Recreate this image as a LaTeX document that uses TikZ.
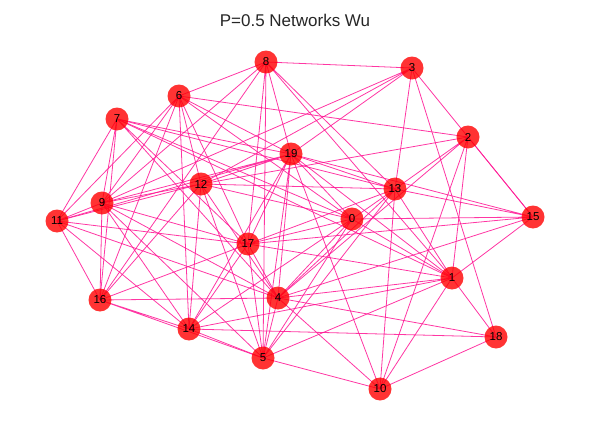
\documentclass[tikz,border=0pt]{standalone}
\usepackage{fontspec}
\setmainfont{Liberation Sans}
\usepackage{tikz}
\pgfdeclarelayer{bg}
\pgfsetlayers{bg,main}
\definecolor{edgepink}{RGB}{255,20,147}
\definecolor{vertred}{RGB}{255,0,0}
\tikzset{
  vert/.style={circle, fill=vertred, fill opacity=0.8, text opacity=1, minimum size=23pt, inner sep=0pt, font=\fontsize{11.5}{11.5}\selectfont},
  edge/.style={draw=edgepink, draw opacity=0.85, line width=0.8pt}
}

\begin{document}
\begin{tikzpicture}[x=1pt,y=-1pt]
\useasboundingbox (0,0) rectangle (590,431);
\node[font=\fontsize{17}{17}\selectfont, text=black!85] (title) at (295,20) {P=0.5 Networks Wu};
% vertices
\node[vert] (n0) at (352,219) {0};
\node[vert] (n1) at (452,278) {1};
\node[vert] (n2) at (468,137) {2};
\node[vert] (n3) at (412,68) {3};
\node[vert] (n4) at (278,298) {4};
\node[vert] (n5) at (263,358) {5};
\node[vert] (n6) at (179,96) {6};
\node[vert] (n7) at (117,119) {7};
\node[vert] (n8) at (266,62) {8};
\node[vert] (n9) at (102,203) {9};
\node[vert] (n10) at (380,389) {10};
\node[vert] (n11) at (57,221) {11};
\node[vert] (n12) at (201,184) {12};
\node[vert] (n13) at (395,189) {13};
\node[vert] (n14) at (189,329) {14};
\node[vert] (n15) at (533,217) {15};
\node[vert] (n16) at (100,300) {16};
\node[vert] (n17) at (248,244) {17};
\node[vert] (n18) at (496,337) {18};
\node[vert] (n19) at (291,154) {19};
% edges
\begin{pgfonlayer}{bg}
\draw[edge] (n8.center) -- (n3.center) (n8.center) -- (n6.center) (n8.center) -- (n19.center) (n8.center) -- (n17.center) (n8.center) -- (n5.center) (n8.center) -- (n16.center) (n8.center) -- (n13.center) (n8.center) -- (n1.center) (n8.center) -- (n9.center);
\draw[edge] (n3.center) -- (n2.center) (n3.center) -- (n15.center) (n3.center) -- (n13.center) (n3.center) -- (n19.center) (n3.center) -- (n12.center) (n3.center) -- (n9.center) (n3.center) -- (n18.center);
\draw[edge] (n2.center) -- (n15.center) (n2.center) -- (n13.center) (n2.center) -- (n6.center) (n2.center) -- (n12.center) (n2.center) -- (n1.center) (n2.center) -- (n10.center) (n2.center) -- (n4.center);
\draw[edge] (n15.center) -- (n13.center) (n15.center) -- (n19.center) (n15.center) -- (n0.center) (n15.center) -- (n1.center) (n15.center) -- (n4.center) (n15.center) -- (n17.center);
\draw[edge] (n13.center) -- (n0.center) (n13.center) -- (n19.center) (n13.center) -- (n12.center) (n13.center) -- (n7.center) (n13.center) -- (n17.center) (n13.center) -- (n4.center) (n13.center) -- (n5.center) (n13.center) -- (n10.center) (n13.center) -- (n1.center);
\draw[edge] (n0.center) -- (n1.center) (n0.center) -- (n4.center) (n0.center) -- (n5.center) (n0.center) -- (n14.center) (n0.center) -- (n19.center) (n0.center) -- (n12.center) (n0.center) -- (n7.center) (n0.center) -- (n6.center) (n0.center) -- (n17.center);
\draw[edge] (n19.center) -- (n6.center) (n19.center) -- (n7.center) (n19.center) -- (n12.center) (n19.center) -- (n9.center) (n19.center) -- (n11.center) (n19.center) -- (n17.center) (n19.center) -- (n5.center) (n19.center) -- (n4.center) (n19.center) -- (n14.center) (n19.center) -- (n10.center) (n19.center) -- (n1.center);
\draw[edge] (n12.center) -- (n6.center) (n12.center) -- (n9.center) (n12.center) -- (n11.center) (n12.center) -- (n16.center) (n12.center) -- (n14.center) (n12.center) -- (n5.center) (n12.center) -- (n4.center);
\draw[edge] (n6.center) -- (n9.center) (n6.center) -- (n16.center) (n6.center) -- (n14.center) (n6.center) -- (n17.center) (n6.center) -- (n11.center);
\draw[edge] (n7.center) -- (n11.center) (n7.center) -- (n9.center) (n7.center) -- (n16.center) (n7.center) -- (n17.center) (n7.center) -- (n4.center) (n7.center) -- (n1.center);
\draw[edge] (n9.center) -- (n11.center) (n9.center) -- (n16.center) (n9.center) -- (n17.center) (n9.center) -- (n14.center) (n9.center) -- (n5.center) (n9.center) -- (n4.center);
\draw[edge] (n11.center) -- (n16.center) (n11.center) -- (n17.center) (n11.center) -- (n14.center) (n11.center) -- (n4.center);
\draw[edge] (n16.center) -- (n4.center) (n16.center) -- (n14.center) (n16.center) -- (n5.center) (n16.center) -- (n17.center);
\draw[edge] (n14.center) -- (n5.center) (n14.center) -- (n17.center) (n14.center) -- (n1.center) (n14.center) -- (n18.center);
\draw[edge] (n17.center) -- (n1.center) (n17.center) -- (n5.center) (n17.center) -- (n4.center);
\draw[edge] (n4.center) -- (n5.center) (n4.center) -- (n1.center) (n4.center) -- (n18.center) (n4.center) -- (n10.center);
\draw[edge] (n5.center) -- (n10.center) (n5.center) -- (n1.center);
\draw[edge] (n1.center) -- (n10.center) (n1.center) -- (n18.center) (n18.center) -- (n10.center);
\end{pgfonlayer}
\end{tikzpicture}
\end{document}
